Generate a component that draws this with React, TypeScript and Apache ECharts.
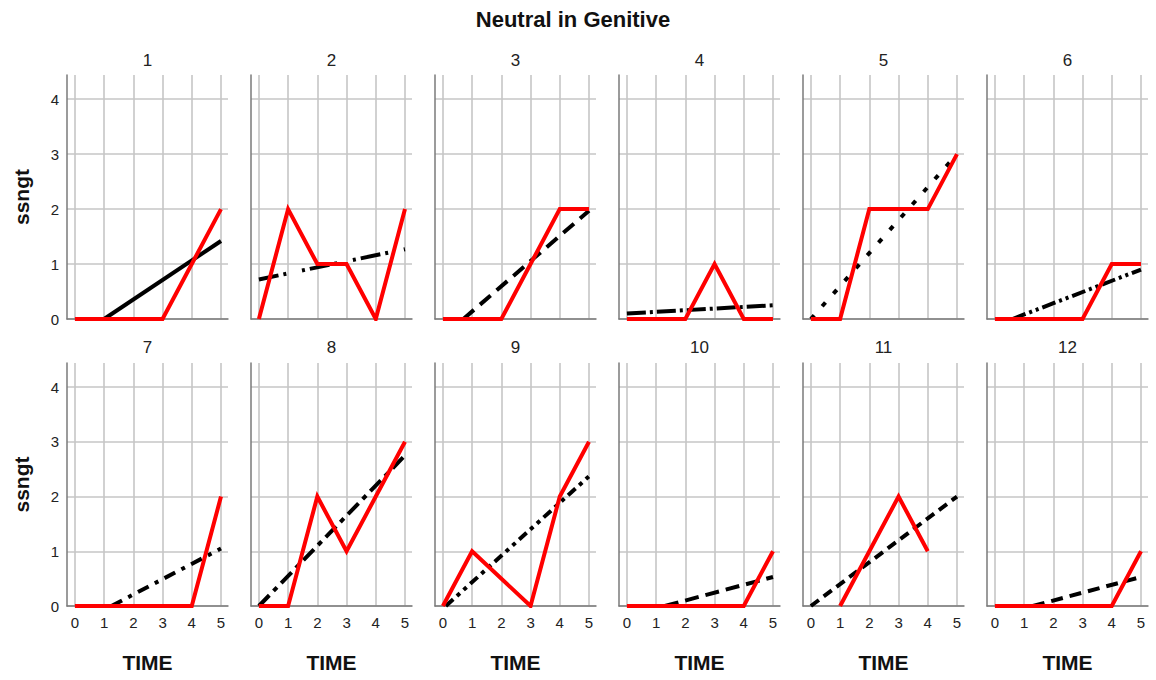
import React, { useEffect, useRef } from "react";
import * as echarts from "echarts";

// Measurement occasions and the twelve subjects' panels
const TIME = [0, 1, 2, 3, 4, 5];
const PANEL_TITLES = ["1", "2", "3", "4", "5", "6", "7", "8", "9", "10", "11", "12"];

// Observed ssngt scores per subject (null = missing occasion)
const ssngt1 = [0, 0, 0, 0, 1, 2];
const ssngt2 = [0, 2, 1, 1, 0, 2];
const ssngt3 = [0, 0, 0, 1, 2, 2];
const ssngt4 = [0, 0, 0, 1, 0, 0];
const ssngt5 = [0, 0, 2, 2, 2, 3];
const ssngt6 = [0, 0, 0, 0, 1, 1];
const ssngt7 = [0, 0, 0, 0, 0, 2];
const ssngt8 = [0, 0, 2, 1, 2, 3];
const ssngt9 = [0, 1, null, 0, 2, 3];
const ssngt10 = [0, 0, 0, 0, 0, 1];
const ssngt11 = [null, 0, 1, 2, 1, null];
const ssngt12 = [0, 0, 0, 0, 0, 1];

// Fitted trend for each subject: [TIME, ssngt] at start and end
const fit1 = [[1.0, 0], [5, 1.42]];
const fit2 = [[0, 0.72], [5, 1.27]];
const fit3 = [[0.7, 0], [5, 1.97]];
const fit4 = [[0, 0.1], [5, 0.25]];
const fit5 = [[0, 0], [5, 3.0]];
const fit6 = [[0.6, 0], [5, 0.9]];
const fit7 = [[1.25, 0], [5, 1.05]];
const fit8 = [[0, 0], [5, 2.75]];
const fit9 = [[0.1, 0], [5, 2.37]];
const fit10 = [[1.3, 0], [5, 0.53]];
const fit11 = [[0, 0], [5, 2.0]];
const fit12 = [[1.3, 0], [5, 0.53]];

const observed = [ssngt1, ssngt2, ssngt3, ssngt4, ssngt5, ssngt6, ssngt7, ssngt8, ssngt9, ssngt10, ssngt11, ssngt12];
const fitted = [fit1, fit2, fit3, fit4, fit5, fit6, fit7, fit8, fit9, fit10, fit11, fit12];

// Line pattern of each subject's trend line
const TREND_DASH: (string | number[])[] = [
  "solid",
  [20, 5, 3, 16, 3, 5],
  [14, 8],
  [19, 4, 3, 4],
  [5, 12],
  [14, 4, 3, 4, 3, 4],
  [12, 7, 4, 7],
  [15, 6, 5, 6],
  [10, 5, 4, 5, 4, 5],
  [14, 7],
  [10, 6],
  [12, 7],
];

// Panel layout (pixels)
const COL_LEFT = [67, 251, 435, 619, 803, 987];
const ROW_TOP = [75, 363];
const ROW_HEIGHT = [244, 243];
const PANEL_WIDTH = 161;
const X_MIN = -0.27;
const X_MAX = 5.24;
const Y_MAX = 4.44;

const FONT = "'Liberation Sans', Arial, sans-serif";
const GRID_LINE = { color: "#c6c6c6", width: 1.6 };
const AXIS_LINE = { color: "#7a7a7a", width: 1.5 };

const intLabel = (v: number) => (Math.abs(v - Math.round(v)) < 1e-9 ? String(Math.round(v)) : "");

function buildOption() {
  const grid: any[] = [];
  const xAxis: any[] = [];
  const yAxis: any[] = [];
  const series: any[] = [];
  const graphic: any[] = [];

  graphic.push({
    type: "text",
    x: 573,
    y: 19,
    style: {
      text: "Neutral in Genitive",
      font: `bold 22px ${FONT}`,
      fill: "#111",
      textAlign: "center",
      textVerticalAlign: "middle",
    },
  });

  PANEL_TITLES.forEach((title, i) => {
    const row = Math.floor(i / 6);
    const col = i % 6;
    const left = COL_LEFT[col];
    const top = ROW_TOP[row];
    const height = ROW_HEIGHT[row];

    grid.push({ left, top, width: PANEL_WIDTH, height, containLabel: false });

    graphic.push({
      type: "text",
      x: left + PANEL_WIDTH / 2,
      y: row === 0 ? 60 : 347,
      style: {
        text: title,
        font: `17px ${FONT}`,
        fill: "#222",
        textAlign: "center",
        textVerticalAlign: "middle",
      },
    });

    xAxis.push({
      gridIndex: i,
      type: "value",
      min: X_MIN,
      max: X_MAX,
      splitNumber: 5,
      axisLine: { show: true, onZero: false, lineStyle: AXIS_LINE },
      axisTick: { show: false },
      axisLabel: {
        show: row === 1,
        formatter: intLabel,
        color: "#222",
        fontSize: 15,
        fontFamily: FONT,
        margin: 9,
        showMinLabel: false,
        showMaxLabel: false,
      },
      splitLine: { show: true, showMinLine: false, showMaxLine: false, lineStyle: GRID_LINE },
      name: row === 1 ? "TIME" : "",
      nameLocation: "middle",
      nameGap: 46,
      nameTextStyle: { fontWeight: "bold", fontSize: 21, fontFamily: FONT, color: "#111" },
    });

    yAxis.push({
      gridIndex: i,
      type: "value",
      min: 0,
      max: Y_MAX,
      interval: 1,
      axisLine: { show: true, onZero: false, lineStyle: AXIS_LINE },
      axisTick: { show: false },
      axisLabel: {
        show: col === 0,
        formatter: intLabel,
        color: "#222",
        fontSize: 15,
        fontFamily: FONT,
        margin: 8,
        showMaxLabel: false,
      },
      splitLine: { show: true, showMaxLine: false, lineStyle: GRID_LINE },
      name: col === 0 ? "ssngt" : "",
      nameLocation: "middle",
      nameRotate: 90,
      nameGap: 35,
      nameTextStyle: { fontWeight: "bold", fontSize: 21, fontFamily: FONT, color: "#111" },
    });

    series.push({
      type: "line",
      xAxisIndex: i,
      yAxisIndex: i,
      data: fitted[i],
      symbol: "none",
      showSymbol: false,
      z: 2,
      lineStyle: { color: "#000", width: 4, type: TREND_DASH[i], cap: "butt" },
    });

    series.push({
      type: "line",
      xAxisIndex: i,
      yAxisIndex: i,
      data: TIME.map((t, k) => [t, observed[i][k]]),
      connectNulls: true,
      symbol: "none",
      showSymbol: false,
      z: 3,
      lineStyle: { color: "#ff0000", width: 4, join: "miter", cap: "butt" },
    });
  });

  return {
    animation: false,
    backgroundColor: "#ffffff",
    grid,
    xAxis,
    yAxis,
    series,
    graphic,
  };
}

export default function App() {
  const ref = useRef<HTMLDivElement | null>(null);

  useEffect(() => {
    if (!ref.current) return;
    const chart = echarts.init(ref.current, undefined, { renderer: "svg" });
    chart.setOption(buildOption() as any);
    return () => chart.dispose();
  }, []);

  return (
    <div
      ref={ref}
      style={{ position: "absolute", left: 0, top: 0, width: 1156, height: 680, background: "#fff" }}
    />
  );
}
